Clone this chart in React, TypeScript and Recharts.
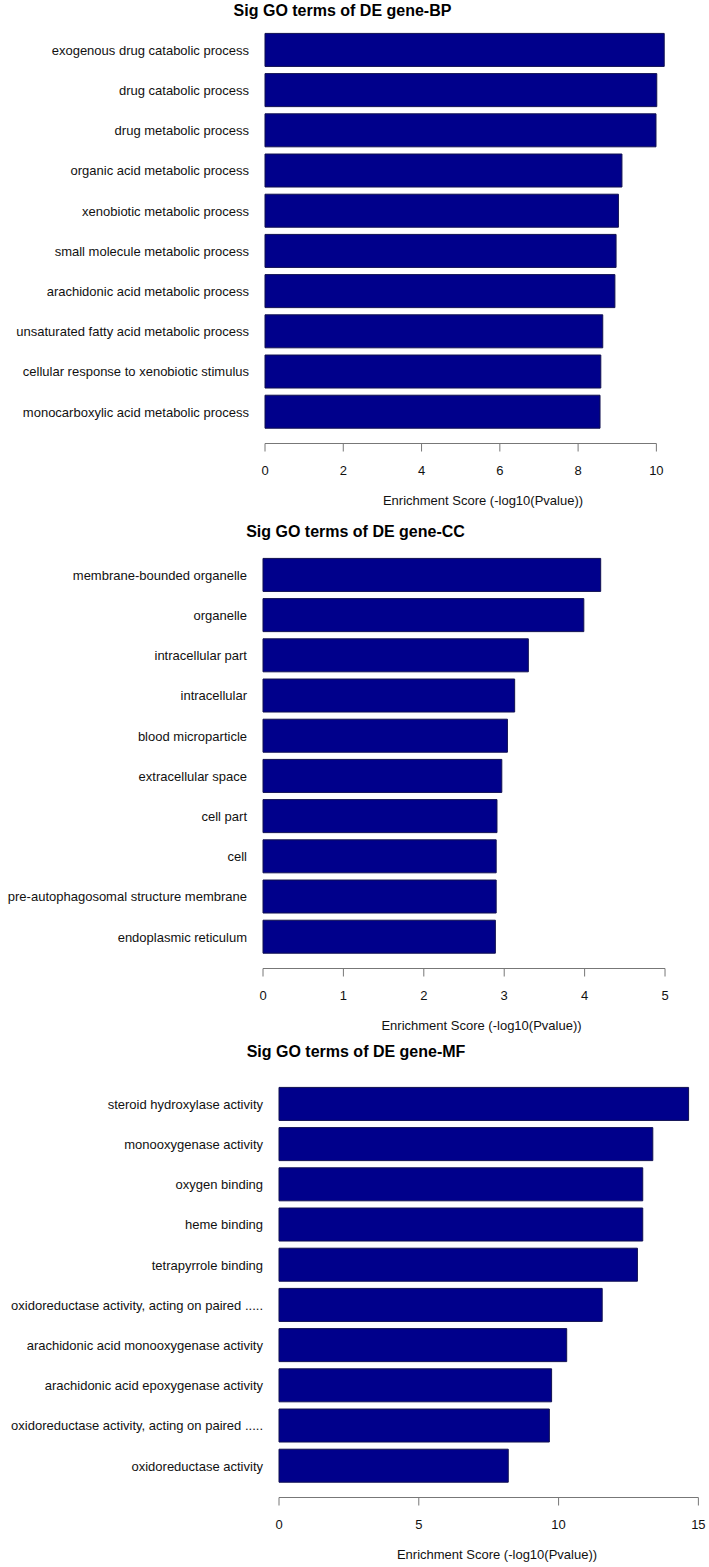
import React from 'react';
import { BarChart, Bar, XAxis, YAxis, Label } from 'recharts';

// BP panel
const bpTerms = [
  'exogenous drug catabolic process',
  'drug catabolic process',
  'drug metabolic process',
  'organic acid metabolic process',
  'xenobiotic metabolic process',
  'small molecule metabolic process',
  'arachidonic acid metabolic process',
  'unsaturated fatty acid metabolic process',
  'cellular response to xenobiotic stimulus',
  'monocarboxylic acid metabolic process',
];
const bpScores = [10.2, 10.01, 9.99, 9.12, 9.03, 8.97, 8.94, 8.63, 8.58, 8.56];
const bpTicks = [0, 2, 4, 6, 8, 10];

// CC panel
const ccTerms = [
  'membrane-bounded organelle',
  'organelle',
  'intracellular part',
  'intracellular',
  'blood microparticle',
  'extracellular space',
  'cell part',
  'cell',
  'pre-autophagosomal structure membrane',
  'endoplasmic reticulum',
];
const ccScores = [4.2, 3.99, 3.3, 3.13, 3.04, 2.97, 2.91, 2.9, 2.9, 2.89];
const ccTicks = [0, 1, 2, 3, 4, 5];

// MF panel
const mfTerms = [
  'steroid hydroxylase activity',
  'monooxygenase activity',
  'oxygen binding',
  'heme binding',
  'tetrapyrrole binding',
  'oxidoreductase activity, acting on paired .....',
  'arachidonic acid monooxygenase activity',
  'arachidonic acid epoxygenase activity',
  'oxidoreductase activity, acting on paired .....',
  'oxidoreductase activity',
];
const mfScores = [14.65, 13.37, 13.01, 13.01, 12.82, 11.56, 10.29, 9.75, 9.67, 8.2];
const mfTicks = [0, 5, 10, 15];

const AXIS_LABEL = 'Enrichment Score (-log10(Pvalue))';
const BAR_FILL = '#00008B';
const AXIS_COLOR = '#777';

function AxisTick(props: any) {
  const { x, y, payload, plotLeft, lastTick } = props;
  const lineY = y + 11.5;
  return (
    <g>
      {payload.value === lastTick && (
        <line x1={plotLeft} x2={x} y1={lineY} y2={lineY} stroke={AXIS_COLOR} />
      )}
      <line x1={x} x2={x} y1={lineY} y2={lineY + 8} stroke={AXIS_COLOR} />
      <text x={x} y={y + 42.5} textAnchor="middle" fontSize={13} fill="#111">
        {payload.value}
      </text>
    </g>
  );
}

// plain text so long terms never wrap
function TermTick(props: any) {
  const { x, y, payload } = props;
  return (
    <text x={x} y={y} dy="0.355em" textAnchor="end" fontSize={13} fill="#111">
      {payload.value}
    </text>
  );
}

interface PanelProps {
  title: string;
  terms: string[];
  scores: number[];
  ticks: number[];
  domainMax: number;
  plotLeft: number;
  marginRight: number;
  top: number;
  titleTop: number;
  titleCenter: number;
  labelDx?: number;
}

function Panel({
  title,
  terms,
  scores,
  ticks,
  domainMax,
  plotLeft,
  marginRight,
  top,
  titleTop,
  titleCenter,
  labelDx = 0,
}: PanelProps) {
  const data = terms.map((term, i) => ({ term, score: scores[i] }));
  return (
    <>
      <div
        style={{
          position: 'absolute',
          top: titleTop,
          left: titleCenter - 200,
          width: 400,
          textAlign: 'center',
          fontWeight: 'bold',
          fontSize: 16,
          lineHeight: '20px',
          color: '#000',
        }}
      >
        {title}
      </div>
      <div style={{ position: 'absolute', top, left: 0 }}>
        <BarChart
          width={709}
          height={487}
          data={data}
          layout="vertical"
          margin={{ top: 0, right: marginRight, bottom: 0, left: 0 }}
          barCategoryGap="8.5%"
        >
          <XAxis
            type="number"
            domain={[0, domainMax]}
            ticks={ticks}
            interval={0}
            height={85}
            axisLine={false}
            tickLine={false}
            tickSize={0}
            tickMargin={0}
            tick={(p: any) => (
              <AxisTick {...p} plotLeft={plotLeft} lastTick={ticks[ticks.length - 1]} />
            )}
          >
            <Label
              value={AXIS_LABEL}
              position="insideBottom"
              offset={12}
              dx={labelDx}
              fontSize={13}
              fill="#111"
            />
          </XAxis>
          <YAxis
            type="category"
            dataKey="term"
            width={plotLeft}
            axisLine={false}
            tickLine={false}
            tickSize={0}
            tickMargin={16}
            interval={0}
            tick={(p: any) => <TermTick {...p} />}
          />
          <Bar
            dataKey="score"
            fill={BAR_FILL}
            stroke="#101050"
            strokeWidth={1}
            isAnimationActive={false}
          />
        </BarChart>
      </div>
    </>
  );
}

export default function App() {
  return (
    <div
      style={{
        position: 'absolute',
        left: 0,
        top: 0,
        width: 709,
        height: 1567,
        background: '#fff',
        fontFamily: '"Liberation Sans", Arial, sans-serif',
        overflow: 'hidden',
      }}
    >
      <Panel
        title="Sig GO terms of DE gene-BP"
        terms={bpTerms}
        scores={bpScores}
        ticks={bpTicks}
        domainMax={11.14}
        plotLeft={265}
        marginRight={8}
        top={30}
        titleTop={1}
        titleCenter={342.5}
      />
      <Panel
        title="Sig GO terms of DE gene-CC"
        terms={ccTerms}
        scores={ccScores}
        ticks={ccTicks}
        domainMax={5.435}
        plotLeft={263}
        marginRight={9}
        top={555}
        titleTop={522}
        titleCenter={355.5}
      />
      <Panel
        title="Sig GO terms of DE gene-MF"
        terms={mfTerms}
        scores={mfScores}
        ticks={mfTicks}
        domainMax={15.38}
        plotLeft={279}
        marginRight={0}
        top={1084}
        titleTop={1042}
        titleCenter={356}
        labelDx={3}
      />
    </div>
  );
}
